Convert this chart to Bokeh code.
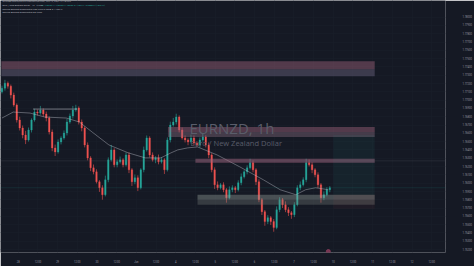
from bokeh.plotting import figure
from bokeh.models import (Range1d, FixedTicker, Label, ColumnDataSource, Span,
                          CustomJSTickFormatter)
from bokeh.embed import file_html
from bokeh.resources import INLINE

# ---------------- data ----------------
first_open = 1.77100
closes = [
    1.77144, 1.77204, 1.77168, 1.77060, 1.76940, 1.76760, 1.76664, 1.76580, 1.76520, 1.76640,
    1.76760, 1.76856, 1.76844, 1.76880, 1.76832, 1.76784, 1.76616, 1.76424, 1.76376, 1.76496,
    1.76544, 1.76604, 1.76736, 1.76808, 1.76880, 1.76904, 1.76736, 1.76664, 1.76460, 1.76304,
    1.76184, 1.76136, 1.76016, 1.75944, 1.75860, 1.76040, 1.76280, 1.76400, 1.76220, 1.76256,
    1.76280, 1.76220, 1.76340, 1.76160, 1.76016, 1.76064, 1.75944, 1.76160, 1.76400, 1.76544,
    1.76340, 1.76280, 1.76304, 1.76256, 1.76280, 1.76160, 1.76520, 1.76700, 1.76736, 1.76796,
    1.76640, 1.76544, 1.76520, 1.76496, 1.76544, 1.76484, 1.76460, 1.76520, 1.76556, 1.76460,
    1.76340, 1.76160, 1.75980, 1.75944, 1.75980, 1.75920, 1.75824, 1.75920, 1.75944, 1.75920,
    1.76004, 1.76076, 1.76136, 1.76184, 1.76244, 1.76160, 1.76016, 1.75800, 1.75656, 1.75536,
    1.75584, 1.75536, 1.75464, 1.75680, 1.75800, 1.75740, 1.75680, 1.75644, 1.75620, 1.75740,
    1.75944, 1.75980, 1.76040, 1.76244, 1.76220, 1.76160, 1.76100, 1.75980, 1.75824, 1.75860,
    1.75920, 1.75944,
]
# wick lengths above / below the body, in pips (0.0001)
up_wick = [
    3, 4, 2, 2, 3, 2, 4, 3, 5, 3,
    2, 4, 3, 5, 2, 3, 2, 3, 4, 3,
    2, 3, 4, 3, 5, 4, 2, 3, 2, 3,
    2, 4, 3, 2, 3, 5, 3, 6, 2, 3,
    4, 2, 3, 3, 2, 4, 3, 2, 4, 3,
    2, 3, 2, 4, 3, 2, 3, 4, 5, 4,
    2, 3, 3, 2, 4, 3, 2, 3, 4, 2,
    3, 2, 3, 4, 2, 3, 2, 4, 3, 2,
    3, 4, 2, 3, 5, 3, 2, 3, 2, 2,
    3, 2, 3, 4, 3, 2, 4, 3, 2, 3,
    3, 4, 3, 5, 4, 3, 2, 3, 2, 4,
    3, 2,
]
dn_wick = [
    2, 3, 3, 4, 2, 3, 3, 4, 5, 2,
    3, 2, 3, 2, 3, 4, 3, 4, 5, 2,
    3, 2, 3, 2, 3, 2, 3, 4, 3, 3,
    4, 3, 2, 5, 6, 2, 3, 2, 3, 3,
    2, 3, 2, 4, 5, 3, 4, 2, 3, 2,
    3, 2, 4, 3, 2, 5, 2, 3, 2, 3,
    3, 2, 3, 4, 2, 3, 2, 3, 2, 3,
    4, 3, 5, 3, 2, 3, 6, 2, 3, 4,
    2, 3, 2, 3, 2, 3, 4, 3, 4, 5,
    3, 4, 5, 2, 3, 4, 3, 4, 5, 3,
    2, 3, 2, 3, 2, 4, 3, 4, 6, 3,
    2, 3,
]
# moving average (candle index, price)
ma_idx = [0, 3.8, 9.5, 14.5, 21.8, 26.2, 30.5, 36.2, 42.8, 48.5, 53.8, 57.2, 59.5,
          62.8, 66.2, 72.8, 80.5, 88.5, 94.2, 99.5, 102.8, 106.2, 110.5]
ma_val = [1.76784, 1.76856, 1.76844, 1.76796, 1.76784, 1.76736, 1.76616, 1.76460,
          1.76364, 1.76304, 1.76304, 1.76364, 1.76400, 1.76424, 1.76436, 1.76340,
          1.76196, 1.76040, 1.75920, 1.75860, 1.75920, 1.75944, 1.75920]

# drawn zones: left/right (candle index), top/bottom (price)
zone_left = [-0.2, -0.2, 56.2, 56.2, 65.5, 66.2, 66.2, 112.2, 112.2]
zone_right = [126.2] * 9
zone_top = [1.77468, 1.77372, 1.76676, 1.76616, 1.76292, 1.75860, 1.75800, 1.76580, 1.75860]
zone_bottom = [1.77372, 1.77288, 1.76616, 1.76556, 1.76244, 1.75800, 1.75740, 1.75860, 1.75692]
zone_color = ["#a0647d", "#786e8c", "#a0647d", "#8c6e82", "#a0647d", "#96a09b", "#78827d",
              "#26a69a", "#ef5350"]
zone_alpha = [0.45, 0.40, 0.45, 0.40, 0.5, 0.40, 0.33, 0.07, 0.05]

level_line_idx = [10.5, 25.5]
level_line_val = [1.76892, 1.76892]

price_ticks = [1.780, 1.779, 1.778, 1.777, 1.776, 1.775, 1.774, 1.773, 1.772, 1.771,
               1.770, 1.769, 1.768, 1.767, 1.766, 1.765, 1.764, 1.763, 1.762, 1.761,
               1.760, 1.759, 1.758, 1.757, 1.756, 1.755, 1.754, 1.753, 1.752]
time_tick_pos = [5.5, 12.17, 18.83, 25.5, 32.17, 38.83, 45.5, 52.17, 58.83, 65.5, 72.17,
                 78.83, 85.5, 92.17, 98.83, 105.5, 112.17, 118.83, 125.5, 132.17, 138.83, 145.5]
time_tick_lab = ["28", "12:00", "29", "12:00", "30", "12:00", "Jun", "12:00", "4", "12:00",
                 "5", "12:00", "6", "12:00", "7", "12:00", "10", "12:00", "11", "12:00",
                 "12", "12:00"]

# ---------------- derived OHLC ----------------
opens = [first_open] + closes[:-1]
idx = list(range(len(closes)))
highs = [max(o, c) + u * 0.0001 for o, c, u in zip(opens, closes, up_wick)]
lows = [min(o, c) - d * 0.0001 for o, c, d in zip(opens, closes, dn_wick)]
UP, DN = "#26a69a", "#ef5350"
cols = [UP if c >= o else DN for o, c in zip(opens, closes)]
src = ColumnDataSource(dict(x=idx, o=opens, c=closes, h=highs, l=lows, col=cols))

BG = "#151924"
p = figure(width=474, height=266, output_backend="svg", toolbar_location=None,
           x_range=Range1d(-0.5, 150.17), y_range=Range1d(1.75164, 1.7820),
           y_axis_location="right", min_border_left=0, min_border_top=0,
           min_border_right=22, min_border_bottom=13)
p.background_fill_color = BG
p.border_fill_color = BG
p.outline_line_color = None

# axes
yax = p.yaxis[0]
yax.ticker = FixedTicker(ticks=price_ticks)
yax.formatter = CustomJSTickFormatter(code="return tick.toFixed(5);")
xax = p.xaxis[0]
xax.ticker = FixedTicker(ticks=time_tick_pos)
xax.formatter = CustomJSTickFormatter(args=dict(pos=time_tick_pos, labs=time_tick_lab), code="""
    for (let k = 0; k < pos.length; k++) { if (Math.abs(pos[k] - tick) < 1e-6) return labs[k]; }
    return '';""")
for ax in (xax, yax):
    ax.axis_line_color = None
    ax.major_tick_line_color = None
    ax.minor_tick_line_color = None
    ax.major_label_text_color = "#9598a1"
    ax.major_label_text_font_size = "2.6px"
    ax.major_label_text_font = "Roboto"
yax.major_label_standoff = 11
xax.major_label_standoff = 2
p.xgrid.grid_line_color = "#1a1e2a"
p.ygrid.grid_line_color = "#1a1e2a"
p.xgrid.grid_line_width = 0.6
p.ygrid.grid_line_width = 0.6

# watermark
p.add_layout(Label(x=189, y=125, x_units="screen", y_units="screen", text="EURNZD, 1h",
                   text_font="Open Sans", text_font_size="15px", text_color="#5a5d6a",
                   text_baseline="alphabetic"))
p.add_layout(Label(x=190, y=110, x_units="screen", y_units="screen",
                   text="Euro / New Zealand Dollar", text_font="Open Sans",
                   text_font_size="7.5px", text_color="#5a5d6a", text_baseline="alphabetic"))

# candles
p.segment(x0="x", y0="h", x1="x", y1="l", color="col", line_width=0.6, source=src)
p.vbar(x="x", width=0.52, top="o", bottom="c", fill_color="col", line_color="col",
       line_width=0.3, source=src)

# moving average and level line
p.line(ma_idx, ma_val, line_color="#c3c6ce", line_alpha=0.6, line_width=0.7)
p.line(level_line_idx, level_line_val, line_color="#8a8d98", line_width=0.8)

# zones
p.quad(left=zone_left, right=zone_right, top=zone_top, bottom=zone_bottom,
       fill_color=zone_color, fill_alpha=zone_alpha, line_color=None)

# current price & level lines
p.add_layout(Span(location=closes[-1], dimension="width", line_color="#26a69a",
                  line_alpha=0.45, line_width=0.6, line_dash="1 1"))
p.add_layout(Span(location=1.76268, dimension="width", line_color="#787b86",
                  line_alpha=0.35, line_width=0.5))

# event marker
p.scatter([110.5], [1.75176], size=4, color="#8e3d5e", alpha=0.8)

# price-axis badges
def badge(price, text, bg, fg="#ffffff"):
    p.add_layout(Label(x=462, y=price, x_units="screen", y_units="data", text=text,
                       text_font="Roboto", text_font_size="2.6px", text_color=fg,
                       text_baseline="middle", background_fill_color=bg,
                       padding=1))
badge(1.76568, "1.76580", "#22ab94")
badge(closes[-1] + 0.00012, "1.75944", "#26a69a")
badge(closes[-1] - 0.00036, "17:42", "#4caf80")
badge(1.75692, "1.75692", "#f23645")
p.add_layout(Label(x=462, y=246, x_units="screen", y_units="screen", text="NZD",
                   text_font="Roboto", text_font_size="2.6px", text_color="#d1d4dc",
                   text_baseline="middle", background_fill_color="#2a2e39", padding=1))

# header legend
def hdr(x, y, text, color):
    p.add_layout(Label(x=x, y=y, x_units="screen", y_units="screen", text=text,
                       text_font="Roboto", text_font_size="2.4px", text_color=color,
                       text_baseline="middle"))
hdr(2, 251, "EURNZD published on TradingView.com, Jun 12, 2024 17:18 UTC", "#9598a1")
hdr(2, 247, "Euro / New Zealand Dollar · 1h · FXCM", "#b2b5be")
hdr(41, 247, "O1.75920 H1.75968 L1.75902 C1.75944 +0.00024 (+0.01%)", "#26a69a")
hdr(2, 243, "Moving Average Exponential 200 close 0 SMA 5  1.76012", "#b2b5be")
hdr(2, 240, "Moving Average Exponential 50 close", "#b2b5be")

# logo
p.add_layout(Label(x=2, y=-10, x_units="screen", y_units="screen", text="TV TradingView",
                   text_font="Roboto", text_font_size="2.6px", text_color="#b2b5be",
                   text_baseline="middle"))

open("out.html", "w").write(file_html(p, INLINE))
